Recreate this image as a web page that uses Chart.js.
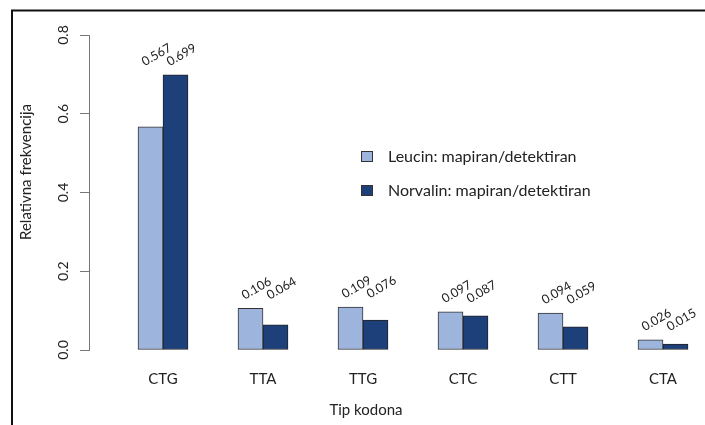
<!DOCTYPE html>
<html>
<head>
<meta charset="utf-8">
<script src="https://cdn.jsdelivr.net/npm/chart.js@4.4.1/dist/chart.umd.min.js"></script>
<style>
    html, body { margin: 0; padding: 0; background: #fff; }
    #wrap { width: 705px; height: 425px; position: relative; }
</style>
</head>
<body>
<div id="wrap"><canvas id="codonChart" width="705" height="425"></canvas></div>
<script>
// Tipovi kodona i relativne frekvencije
const codons = ['CTG', 'TTA', 'TTG', 'CTC', 'CTT', 'CTA'];
const leucin = [0.567, 0.106, 0.109, 0.097, 0.094, 0.026];
const norvalin = [0.699, 0.064, 0.076, 0.087, 0.059, 0.015];
const yTicks = [0, 0.2, 0.4, 0.6, 0.8];

const seriesNames = ['Leucin: mapiran/detektiran', 'Norvalin: mapiran/detektiran'];
const seriesColors = ['#9db4dd', '#1d407b'];

const FONT = 'Lato, "Open Sans", sans-serif';
const TEXT_COLOR = '#222';

// Okvir, oznake osi, legenda i vrijednosti iznad stupaca
const decorations = {
    id: 'decorations',
    beforeDraw(chart) {
        const ctx = chart.ctx;
        ctx.save();
        ctx.fillStyle = '#fff';
        ctx.fillRect(0, 0, chart.width, chart.height);
        ctx.strokeStyle = '#111';
        ctx.lineWidth = 2;
        ctx.beginPath();
        ctx.moveTo(12, chart.height);
        ctx.lineTo(12, 10.5);
        ctx.lineTo(chart.width, 10.5);
        ctx.stroke();
        ctx.restore();
    },
    afterDatasetsDraw(chart) {
        const ctx = chart.ctx;
        const yScale = chart.scales.y;
        ctx.save();
        ctx.fillStyle = TEXT_COLOR;

        // vrijednosti iznad stupaca, zakrenute
        ctx.font = '12.5px ' + FONT;
        ctx.textAlign = 'center';
        ctx.textBaseline = 'middle';
        codons.forEach((c, i) => {
            const top = yScale.getPixelForValue(Math.max(leucin[i], norvalin[i])) - 20;
            [leucin, norvalin].forEach((arr, d) => {
                const bar = chart.getDatasetMeta(d).data[i];
                ctx.save();
                ctx.translate(bar.x + 6, top);
                ctx.rotate(-Math.PI / 6);
                ctx.fillText(arr[i].toFixed(3), 0, 0);
                ctx.restore();
            });
        });

        // oznake na y osi
        ctx.font = '14px ' + FONT;
        yTicks.forEach(v => {
            ctx.save();
            ctx.translate(63, yScale.getPixelForValue(v));
            ctx.rotate(-Math.PI / 2);
            ctx.fillText(v.toFixed(1), 0, 0);
            ctx.restore();
        });

        // naslovi osi
        ctx.font = '15px ' + FONT;
        ctx.save();
        ctx.translate(26, 172);
        ctx.rotate(-Math.PI / 2);
        ctx.fillText('Relativna frekvencija', 0, 0);
        ctx.restore();
        ctx.fillText('Tip kodona', 366, 410);

        // legenda
        ctx.font = '16px ' + FONT;
        ctx.textAlign = 'left';
        seriesNames.forEach((name, d) => {
            const y = 157 + d * 34;
            ctx.fillStyle = seriesColors[d];
            ctx.fillRect(361.5, y - 5.5, 11, 10);
            ctx.strokeStyle = '#333';
            ctx.lineWidth = 1;
            ctx.strokeRect(361.5, y - 5.5, 11, 10);
            ctx.fillStyle = TEXT_COLOR;
            ctx.fillText(name, 388, y);
        });
        ctx.restore();
    }
};

const toPoints = arr => arr.map((v, i) => ({ x: i, y: v }));

new Chart(document.getElementById('codonChart').getContext('2d'), {
    type: 'bar',
    data: {
        datasets: [{
            label: seriesNames[0],
            data: toPoints(leucin),
            backgroundColor: seriesColors[0],
            borderColor: '#333',
            borderWidth: 1,
            borderSkipped: false,
            barThickness: 25,
            clip: false
        }, {
            label: seriesNames[1],
            data: toPoints(norvalin),
            backgroundColor: seriesColors[1],
            borderColor: '#222',
            borderWidth: 1,
            borderSkipped: false,
            barThickness: 25,
            clip: false
        }]
    },
    options: {
        responsive: false,
        animation: false,
        layout: { padding: { top: 35, left: 0, right: 0, bottom: 0 } },
        plugins: {
            legend: { display: false },
            tooltip: { enabled: false }
        },
        scales: {
            x: {
                type: 'linear',
                offset: false,
                min: -0.74,
                max: 5.42,
                afterBuildTicks: scale => { scale.ticks = codons.map((c, i) => ({ value: i })); },
                afterFit: scale => { scale.height = 75; },
                grid: { display: false, drawTicks: false, offset: false },
                border: { display: false },
                ticks: {
                    padding: 20,
                    color: TEXT_COLOR,
                    font: { family: FONT, size: 15 },
                    maxRotation: 0,
                    callback: value => codons[value]
                }
            },
            y: {
                min: 0,
                max: 0.8,
                afterBuildTicks: scale => { scale.ticks = yTicks.map(v => ({ value: v })); },
                afterFit: scale => { scale.width = 89; },
                grid: { drawOnChartArea: false, drawTicks: true, tickLength: 9, color: '#777' },
                border: { color: '#777' },
                ticks: { display: false }
            }
        }
    },
    plugins: [decorations]
});
</script>
</body>
</html>
